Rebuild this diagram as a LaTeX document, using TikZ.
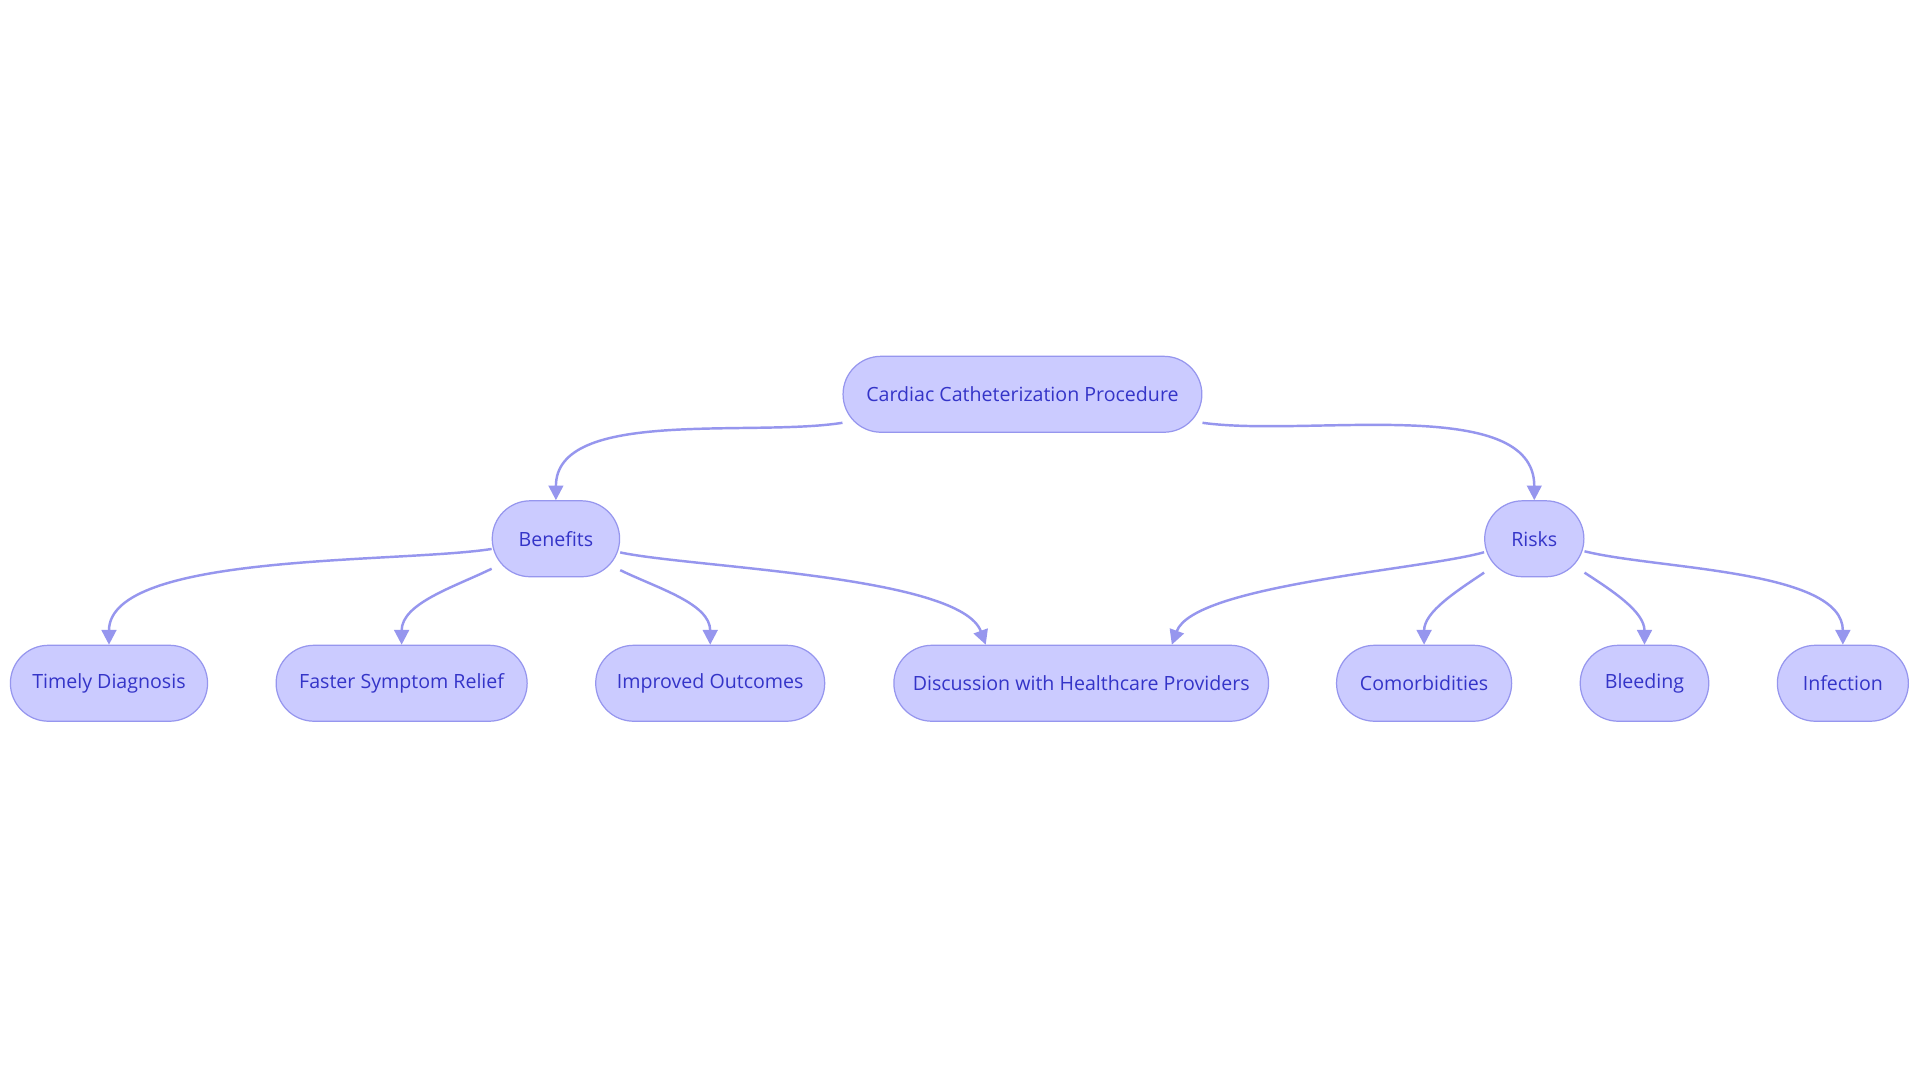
\documentclass[tikz,border=0pt]{standalone}
\usepackage{fontspec}
\setmainfont{Open Sans}
\usetikzlibrary{calc,arrows.meta}
\definecolor{nfill}{RGB}{203,203,255}
\definecolor{nline}{RGB}{150,150,238}
\definecolor{ntext}{RGB}{52,52,200}
\begin{document}
\begin{tikzpicture}[x=0.5pt,y=0.5pt,
  box/.style={draw=nline,line width=0.5pt,fill=nfill,rounded corners=15.5pt,minimum height=31pt,inner sep=0pt,text=ntext,font=\fontsize{8}{10}\selectfont},
  edge/.style={draw=nline,line width=1pt,-{Triangle[length=6pt,width=6pt]}}]
\useasboundingbox (0,0) rectangle (1568,884);
\fill[white] (0,0) rectangle (1568,884);
\node[box,minimum width=146.5pt] (root) at (835,562) {Cardiac Catheterization Procedure};
\node[box,minimum width=52pt] (ben) at (454,444) {Benefits};
\node[box,minimum width=40.5pt] (risk) at (1253,444) {Risks};
\node[box,minimum width=80.5pt] (t) at (89,326) {Timely Diagnosis};
\node[box,minimum width=102.5pt] (f) at (328,326) {Faster Symptom Relief};
\node[box,minimum width=93.5pt] (i) at (580,326) {Improved Outcomes};
\node[box,minimum width=153pt] (d) at (883,326) {Discussion with Healthcare Providers};
\node[box,minimum width=71.5pt] (c) at (1163,326) {Comorbidities};
\node[box,minimum width=52.5pt] (b) at (1343,326) {Bleeding};
\node[box,minimum width=53.5pt] (inf) at (1505,326) {Infection};
\coordinate (dl) at ($(d.north)+(-78,0)$);
\coordinate (dr) at ($(d.north)+(74,0)$);
\draw[edge] (root.189.3) to[out=189,in=90,looseness=0.8] (ben.north);
\draw[edge] (root.351.5) to[out=-8,in=90,looseness=0.8] (risk.north);
\draw[edge] (ben.189.8) to[out=189,in=90,looseness=0.6] (t.north);
\draw[edge] (ben.205.7) to[out=206,in=90,looseness=0.9] (f.north);
\draw[edge] (ben.334.3) to[out=-26,in=90,looseness=0.9] (i.north);
\draw[edge] (ben.348) to[out=-12,in=110,looseness=0.5] (dl);
\draw[edge] (risk.195.4) to[out=196,in=70,looseness=0.5] (dr);
\draw[edge] (risk.214) to[out=214,in=90,looseness=0.9] (c.north);
\draw[edge] (risk.326.6) to[out=-33,in=90,looseness=0.9] (b.north);
\draw[edge] (risk.346) to[out=-14,in=90,looseness=0.7] (inf.north);
\end{tikzpicture}
\end{document}
